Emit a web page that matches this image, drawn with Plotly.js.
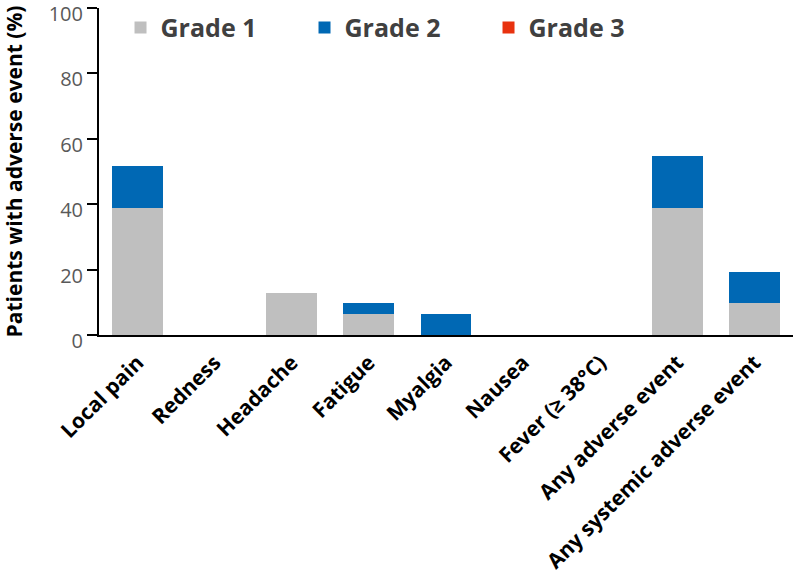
<!DOCTYPE html>
<html>
<head>
<meta charset="utf-8">
<script src="https://cdn.plot.ly/plotly-3.0.1.min.js"></script>
<style>
  html, body { margin: 0; padding: 0; background: #fff; }
  #chart { width: 793px; height: 573px; }
</style>
</head>
<body>
<div id="chart"></div>
<script>
// adverse events by grade, % of patients
var categories = ['Local pain', 'Redness', 'Headache', 'Fatigue', 'Myalgia',
  'Nausea', 'Fever (\u2265 38\u00b0C)', 'Any adverse event', 'Any systemic adverse event'];
var grade1 = [38.7, 0, 12.9, 6.5, 0, 0, 0, 38.7, 9.7];
var grade2 = [12.9, 0, 0, 3.2, 6.5, 0, 0, 16.1, 9.7];
var grade3 = [0, 0, 0, 0, 0, 0, 0, 0, 0];
var yTicks = [0, 20, 40, 60, 80, 100];

var data = [{
  x: categories, y: grade1, name: 'Grade 1', type: 'bar',
  marker: {color: '#bfbfbf'}, hoverinfo: 'x+y+name'
},{
  x: categories, y: grade2, name: 'Grade 2', type: 'bar',
  marker: {color: '#0068b4'}, hoverinfo: 'x+y+name'
},{
  x: categories, y: grade3, name: 'Grade 3', type: 'bar',
  marker: {color: '#e8320f'}, hoverinfo: 'x+y+name'
}];

var layout = {
  barmode: 'stack',
  bargap: 0.34,
  width: 793,
  height: 573,
  margin: {l: 99, r: 0, t: 8, b: 238},
  font: {family: 'Open Sans, sans-serif'},
  paper_bgcolor: '#fff',
  plot_bgcolor: '#fff',
  showlegend: true,
  legend: {
    orientation: 'h',
    x: 0.031, y: 1.01, xanchor: 'left', yanchor: 'top',
    font: {size: 25, color: '#404040', weight: 'bold'},
    entrywidth: 139, entrywidthmode: 'pixels',
    traceorder: 'normal'
  },
  xaxis: {
    tickangle: -45,
    ticklabelstandoff: 5,
    tickfont: {size: 21, color: '#000', weight: 'bold'},
    showline: true, linecolor: '#000', linewidth: 2,
    ticks: '', showgrid: false, zeroline: false
  },
  yaxis: {
    range: [0, 100],
    tickvals: yTicks,
    ticklabeloverflow: 'allow',
    ticklabelshift: 6,
    tickfont: {size: 20, color: '#595959'},
    showline: true, linecolor: '#000', linewidth: 2,
    ticks: 'outside', ticklen: 10, tickwidth: 2, tickcolor: '#000',
    showgrid: false, zeroline: false,
    title: {text: 'Patients with adverse event (%)', standoff: 33,
      font: {size: 21, color: '#000', weight: 'bold'}}
  }
};

Plotly.newPlot('chart', data, layout, {displayModeBar: false});
</script>
</body>
</html>
